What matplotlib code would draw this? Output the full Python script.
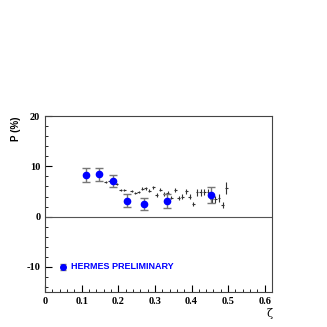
import numpy as np
import matplotlib
matplotlib.use("Agg")
import matplotlib.pyplot as plt
from matplotlib.ticker import MultipleLocator

# Puntos HERMES (azules)
zeta_hermes = [0.111, 0.147, 0.185, 0.225, 0.271, 0.334, 0.454]
p_hermes = [8.2, 8.4, 7.0, 3.2, 2.5, 3.1, 4.3]
err_hermes = [1.4, 1.3, 1.2, 1.2, 1.2, 1.4, 1.6]

# Puntos grises (cruces)
zeta_cross = [0.166, 0.176, 0.195, 0.206, 0.216, 0.236, 0.246, 0.256, 0.265, 0.275,
              0.285, 0.295, 0.305, 0.315, 0.325, 0.335, 0.345, 0.355, 0.365, 0.375,
              0.385, 0.395, 0.405, 0.415, 0.425, 0.435, 0.445, 0.455, 0.465, 0.475,
              0.485, 0.495]
p_cross = [6.8, 7.0, 6.4, 5.3, 5.2, 5.1, 4.6, 4.8, 5.5, 5.6,
           5.1, 5.8, 4.3, 5.3, 4.5, 4.7, 3.8, 5.2, 3.7, 4.0,
           5.0, 4.0, 2.6, 4.8, 4.8, 4.9, 4.9, 3.5, 3.5, 3.7,
           2.3, 5.7]
err_cross = [0.2, 0.2, 0.2, 0.2, 0.2, 0.2, 0.2, 0.2, 0.3, 0.3,
             0.3, 0.3, 0.3, 0.3, 0.3, 0.3, 0.3, 0.4, 0.4, 0.4,
             0.5, 0.5, 0.4, 0.6, 0.6, 0.6, 0.6, 0.7, 0.7, 0.7,
             0.6, 1.2]

x_ticks = [0, 0.1, 0.2, 0.3, 0.4, 0.5, 0.6]
x_labels = ["0", "0.1", "0.2", "0.3", "0.4", "0.5", "0.6"]
y_ticks = [-10, 0, 10, 20]
y_labels = ["-10", "0", "10", "20"]

fig = plt.figure(figsize=(3.27, 3.27), dpi=100)
ax = fig.add_axes([0.138, 0.107, 0.694, 0.538])

ax.axhline(0, color="#555555", lw=0.8)

ax.errorbar(zeta_cross, p_cross, yerr=err_cross, xerr=0.004, fmt="none",
            ecolor="#333333", elinewidth=0.8)
ax.errorbar(zeta_hermes, p_hermes, yerr=err_hermes, fmt="o", color="blue",
            ms=4.5, ecolor="#777777", elinewidth=1.0, capsize=3)

# leyenda
ax.errorbar([0.05], [-10], yerr=[0.6], fmt="o", color="blue", ms=4,
            ecolor="#777777", capsize=2)
ax.text(0.072, -10, "HERMES PRELIMINARY", color="blue", fontsize=6.5,
        fontweight="bold", family="Liberation Sans", va="center")

ax.set_xlim(0, 0.62)
ax.set_ylim(-15, 20)
ax.xaxis.set_minor_locator(MultipleLocator(0.02))
ax.yaxis.set_minor_locator(MultipleLocator(2))
ax.set_xticks(x_ticks)
ax.set_xticklabels(x_labels)
ax.set_yticks(y_ticks)
ax.set_yticklabels(y_labels)
ax.tick_params(which="both", direction="in", top=False, right=False)
ax.tick_params(which="major", length=5, labelsize=7.5)
ax.tick_params(which="minor", length=2.5)
for lab in ax.get_xticklabels() + ax.get_yticklabels():
    lab.set_family("Liberation Serif")
    lab.set_fontweight("bold")

for s in ax.spines.values():
    s.set_color("#444444")
    s.set_linewidth(0.8)

fig.text(0.05, 0.605, "P (%)", rotation=90, fontsize=7, fontweight="bold",
         family="Liberation Sans", va="center", ha="center")
fig.text(0.825, 0.03, "ζ", fontsize=8, family="DejaVu Serif", ha="center")

fig.savefig("out.png", dpi=100)
